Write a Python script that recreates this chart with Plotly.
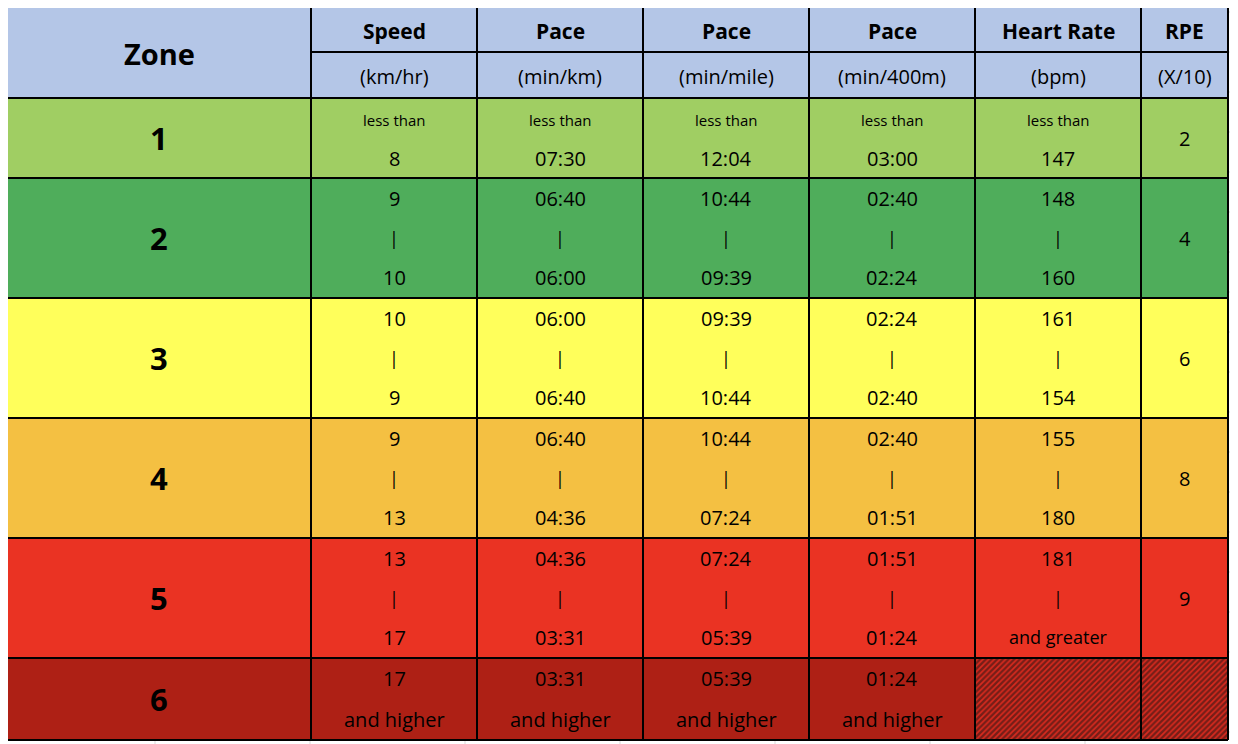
import plotly.graph_objects as go

# Table content
zones = ["1", "2", "3", "4", "5", "6"]
zone_colors = ["#A0CE63", "#4FAD5B", "#FFFF5B", "#F4C042", "#EA3323", "#AE2015"]
header_top = ["Speed", "Pace", "Pace", "Pace", "Heart Rate", "RPE"]
header_units = ["(km/hr)", "(min/km)", "(min/mile)", "(min/400m)", "(bpm)", "(X/10)"]

speed = [("8",), ("9", "10"), ("10", "9"), ("9", "13"), ("13", "17"), ("17", "and higher")]
pace_km = [("07:30",), ("06:40", "06:00"), ("06:00", "06:40"), ("06:40", "04:36"), ("04:36", "03:31"), ("03:31", "and higher")]
pace_mile = [("12:04",), ("10:44", "09:39"), ("09:39", "10:44"), ("10:44", "07:24"), ("07:24", "05:39"), ("05:39", "and higher")]
pace_400 = [("03:00",), ("02:40", "02:24"), ("02:24", "02:40"), ("02:40", "01:51"), ("01:51", "01:24"), ("01:24", "and higher")]
heart = [("147",), ("148", "160"), ("161", "154"), ("155", "180"), ("181", "and greater"), None]
rpe = ["2", "4", "6", "8", "9", None]

# grid geometry (pixels)
col_x = [7, 311, 477, 643, 809, 975, 1141, 1228]
row_y = [7, 98, 178, 298, 418, 538, 658, 740]
head_mid = 52
FONT = "Open Sans"
OFF = 8  # page body margin

fig = go.Figure()
shapes = []
ann = []

def rect(x0, x1, y0, y1, color):
    shapes.append(dict(type="rect", x0=x0, x1=x1, y0=y0, y1=y1, fillcolor=color,
                       line=dict(width=0), layer="below"))

def txt(x, y, s, size=20, bold=False):
    ann.append(dict(x=x, y=y, text=f"<b>{s}</b>" if bold else s, showarrow=False,
                    font=dict(family=FONT, size=size, color="black"), xanchor="center", yanchor="middle"))

# spreadsheet background grid
for gy in range(12, 744, 40):
    shapes.append(dict(type="line", x0=0, x1=1238, y0=gy, y1=gy, line=dict(color="#D9D9D9", width=1), layer="below"))
for gx in [155, 310, 465, 620, 775, 930, 1085, 1232]:
    shapes.append(dict(type="line", x0=gx, x1=gx, y0=0, y1=744, line=dict(color="#D9D9D9", width=1), layer="below"))

# header
rect(col_x[0], col_x[-1], row_y[0], row_y[1], "#B4C6E7")
txt((col_x[0] + col_x[1]) / 2, 53, "Zone", 29, True)
for i in range(6):
    cx = (col_x[i + 1] + col_x[i + 2]) / 2
    txt(cx, 31, header_top[i], 21, True)
    txt(cx, 76, header_units[i], 20)

cols = [speed, pace_km, pace_mile, pace_400, heart]
for r in range(6):
    y0, y1 = row_y[r + 1], row_y[r + 2]
    rect(col_x[0], col_x[-1], y0, y1, zone_colors[r])
    txt((col_x[0] + col_x[1]) / 2, (y0 + y1) / 2, zones[r], 31, True)
    for c, col in enumerate(cols):
        cx = (col_x[c + 1] + col_x[c + 2]) / 2
        v = col[r]
        if v is None:
            continue
        if r == 0:
            txt(cx, y0 + 22, "less than", 15)
            txt(cx, y0 + 60, v[0])
        elif r == 5:
            txt(cx, y0 + 20, v[0])
            txt(cx, y0 + 61, v[1])
        else:
            txt(cx, y0 + 20, v[0])
            txt(cx, y0 + 60, "|", 18)
            txt(cx, y0 + 99, v[1], 18 if v[1] == "and greater" else 20)
    if rpe[r] is not None:
        txt((col_x[6] + col_x[7]) / 2, (y0 + y1) / 2, rpe[r])

# hatched empty cells in zone 6
fig.add_trace(go.Bar(
    y=[(row_y[6] + row_y[7]) / 2] * 2,
    x=[col_x[6] - col_x[5], col_x[7] - col_x[6]],
    base=[col_x[5], col_x[6]],
    width=row_y[7] - row_y[6],
    orientation="h",
    marker=dict(color="#EA3323", line=dict(width=0),
                pattern=dict(shape="/", fgcolor="#111111", bgcolor="#D92A1E", size=4, solidity=0.6)),
    hoverinfo="skip", showlegend=False,
))

# borders
for x in col_x:
    shapes.append(dict(type="line", x0=x, x1=x, y0=row_y[0], y1=row_y[-1], line=dict(color="black", width=2)))
for y in row_y:
    shapes.append(dict(type="line", x0=col_x[0], x1=col_x[-1], y0=y, y1=y, line=dict(color="black", width=2)))
shapes.append(dict(type="line", x0=col_x[1], x1=col_x[-1], y0=head_mid, y1=head_mid, line=dict(color="black", width=2)))

fig.update_layout(
    width=1238, height=744, margin=dict(l=0, r=0, t=0, b=0),
    plot_bgcolor="white", paper_bgcolor="white",
    xaxis=dict(range=[OFF, 1238 + OFF], visible=False, fixedrange=True),
    yaxis=dict(range=[744 + OFF, OFF], visible=False, fixedrange=True),
    shapes=shapes, annotations=ann, bargap=0,
)

fig.write_html("out.html")
